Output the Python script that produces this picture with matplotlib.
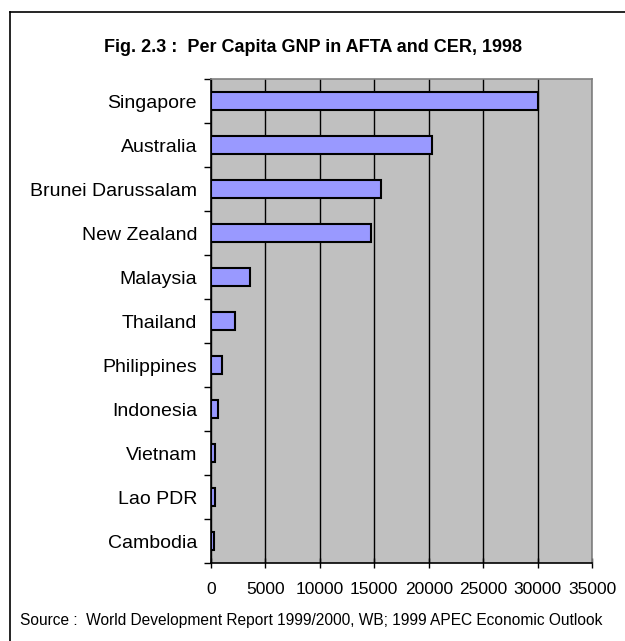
import numpy as np
import matplotlib.pyplot as plt
from matplotlib.lines import Line2D

countries = ['Singapore', 'Australia', 'Brunei Darussalam', 'New Zealand', 'Malaysia',
             'Thailand', 'Philippines', 'Indonesia', 'Vietnam', 'Lao PDR', 'Cambodia']
gnp = [30060, 20300, 15600, 14700, 3600, 2200, 1050, 680, 350, 330, 280]
xticks = [0, 5000, 10000, 15000, 20000, 25000, 30000, 35000]

plt.rcParams['font.family'] = ['Liberation Sans', 'DejaVu Sans']

fig = plt.figure(figsize=(6.25, 6.41), dpi=100)
ax = fig.add_axes([211/625, 1 - 563/641, (592 - 211)/625, (563 - 79)/641])

y = np.arange(len(countries))
ax.set_facecolor('#C0C0C0')
ax.barh(y, gnp, height=0.4, color='#9999FF', edgecolor='black', linewidth=1.5, zorder=3)

ax.set_xlim(0, 35000)
ax.set_ylim(len(countries) - 0.5, -0.5)
ax.set_xticks(xticks)
ax.set_xticklabels([str(v) for v in xticks], fontsize=12.5)
ax.xaxis.grid(True, color='black', linewidth=1, zorder=1)
ax.set_axisbelow(True)
ax.tick_params(axis='x', length=7, width=1, direction='inout', pad=10)

ax.set_yticks(y)
ax.set_yticklabels(countries, fontsize=14)
ax.set_yticks(np.arange(-0.5, len(countries), 1), minor=True)
ax.tick_params(axis='y', which='major', length=0, pad=10)
ax.tick_params(axis='y', which='minor', length=5, width=1, direction='out')

for s in ['left', 'bottom']:
    ax.spines[s].set_color('black')
    ax.spines[s].set_linewidth(1.2)
for s in ['top', 'right']:
    ax.spines[s].set_color('#808080')
    ax.spines[s].set_linewidth(1.2)

fig.text(0.5, 1 - 48/641, 'Fig. 2.3 :  Per Capita GNP in AFTA and CER, 1998',
         ha='center', va='center', fontsize=13, fontweight='bold')
fig.text(20/625, 1 - 621/641, 'Source :  World Development Report 1999/2000, WB; 1999 APEC Economic Outlook',
         ha='left', va='center', fontsize=11.2)

# outer frame (left and top edges visible)
fig.add_artist(Line2D([10/625, 10/625], [0, 1 - 12/641], color='black', linewidth=1.2))
fig.add_artist(Line2D([10/625, 1], [1 - 12/641, 1 - 12/641], color='black', linewidth=1.2))

fig.savefig('out.png', dpi=100)
